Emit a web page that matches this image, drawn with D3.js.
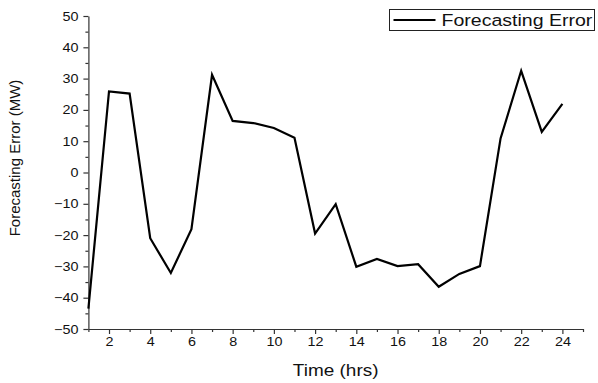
<!DOCTYPE html>
<html>
<head>
<meta charset="utf-8">
<script src="https://cdn.jsdelivr.net/npm/d3@7"></script>
<style>
  body { margin: 0; background: #fff; }
  text { font-family: "Liberation Sans", Arial, sans-serif; }
</style>
</head>
<body>
<div id="chart"></div>
<script>
// hours and forecasting error (MW)
const hours = [1, 2, 3, 4, 5, 6, 7, 8, 9, 10, 11, 12, 13, 14, 15, 16, 17, 18, 19, 20, 21, 22, 23, 24];
const errorMW = [-43.5, 25.9, 25.2, -21.0, -32.1, -18.1, 31.2, 16.5, 15.8, 14.2, 11.1, -19.5, -10.1, -30.1, -27.6, -29.9, -29.3, -36.5, -32.4, -29.9, 10.9, 32.5, 13.0, 21.9];
const xMajorTicks = [2, 4, 6, 8, 10, 12, 14, 16, 18, 20, 22, 24];
const xMinorTicks = [1, 3, 5, 7, 9, 11, 13, 15, 17, 19, 21, 23, 25];
const yMajorTicks = [-50, -40, -30, -20, -10, 0, 10, 20, 30, 40, 50];
const yMinorTicks = [-45, -35, -25, -15, -5, 5, 15, 25, 35, 45];
const seriesName = "Forecasting Error";

const W = 598, H = 383;
const margin = {top: 16, right: 15, bottom: 54, left: 88.4};
const width = W - margin.left - margin.right,
    height = H - margin.top - margin.bottom;

// the original figure is a bit stretched sideways, so text is widened too
const stretch = 1.15;

const svg = d3.select("#chart")
  .append("svg")
  .attr("width", W)
  .attr("height", H);

const g = svg.append("g")
  .attr("transform", `translate(${margin.left}, ${margin.top})`);

const x = d3.scaleLinear().domain([1, 25]).range([0, width]);
const y = d3.scaleLinear().domain([-50, 50]).range([height, 0]);

const axisColor = "#333";

// x axis: major labelled ticks + minor ticks
g.append("g")
  .attr("transform", `translate(0, ${height})`)
  .call(d3.axisBottom(x).tickValues(xMajorTicks).tickSize(5).tickSizeOuter(0).tickPadding(3));
g.append("g")
  .attr("transform", `translate(0, ${height})`)
  .call(d3.axisBottom(x).tickValues(xMinorTicks).tickSize(3).tickFormat(""))
  .select(".domain").remove();

g.append("g")
  .call(d3.axisLeft(y).tickValues(yMajorTicks).tickSize(5).tickSizeOuter(0).tickPadding(5));
g.append("g")
  .call(d3.axisLeft(y).tickValues(yMinorTicks).tickSize(3).tickFormat(""))
  .select(".domain").remove();

g.selectAll(".domain").attr("stroke", axisColor).attr("stroke-width", 1.2);
g.selectAll(".tick line").attr("stroke", axisColor).attr("stroke-width", 1.2);
g.selectAll(".tick text")
  .attr("fill", "#111")
  .style("font-size", "12.5px")
  .style("font-family", "'Liberation Sans', Arial, sans-serif")
  .each(function() {
    const t = d3.select(this);
    const tx = +t.attr("x") || 0, ty = +t.attr("y") || 0;
    t.attr("x", 0).attr("y", 0)
      .attr("transform", `translate(${tx}, ${ty}) scale(${stretch}, 1)`);
  });

// the series line
const line = d3.line()
  .x((d, i) => x(hours[i]))
  .y(d => y(d));

g.append("path")
  .datum(errorMW)
  .attr("fill", "none")
  .attr("stroke", "#000")
  .attr("stroke-width", 2.2)
  .attr("stroke-linejoin", "miter")
  .attr("d", line);

// axis titles
svg.append("text")
  .attr("transform", `translate(${margin.left + width / 2}, 376) scale(1.15, 1)`)
  .attr("text-anchor", "middle")
  .style("font-size", "16.5px")
  .attr("fill", "#111")
  .text("Time (hrs)");

svg.append("text")
  .attr("transform", "translate(20, 158) rotate(-90)")
  .attr("text-anchor", "middle")
  .style("font-size", "15px")
  .attr("fill", "#111")
  .text("Forecasting Error (MW)");

// legend
const legend = svg.append("g").attr("transform", "translate(389.5, 9.5)");
legend.append("rect")
  .attr("width", 205)
  .attr("height", 21)
  .attr("fill", "#fff")
  .attr("stroke", "#222")
  .attr("stroke-width", 1);
legend.append("line")
  .attr("x1", 4).attr("x2", 46)
  .attr("y1", 10.5).attr("y2", 10.5)
  .attr("stroke", "#000")
  .attr("stroke-width", 2.2);
legend.append("text")
  .attr("transform", `translate(52, 16.5) scale(${stretch}, 1)`)
  .style("font-size", "17px")
  .attr("fill", "#111")
  .text(seriesName);
</script>
</body>
</html>
